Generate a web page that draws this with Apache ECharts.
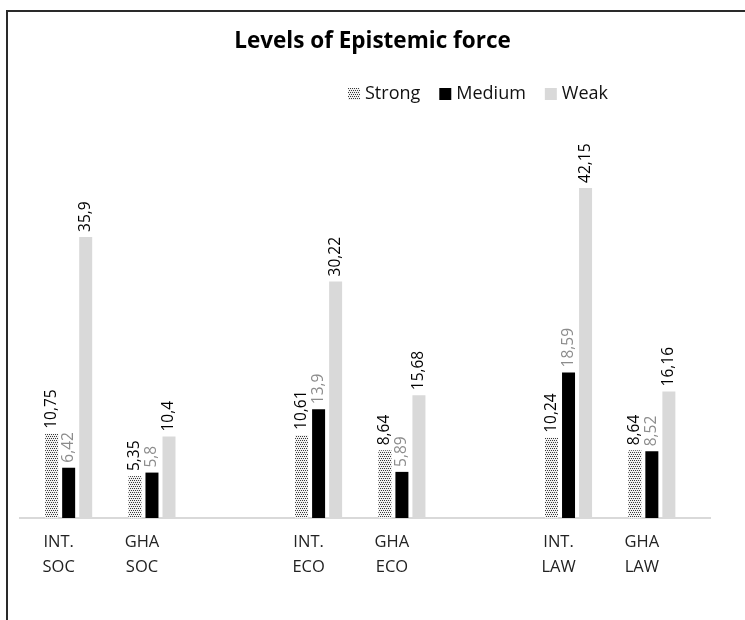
<!DOCTYPE html>
<html>
<head>
<meta charset="utf-8">
<script src="https://cdn.jsdelivr.net/npm/echarts@6/dist/echarts.min.js"></script>
<style>html,body{margin:0;padding:0;background:#fff;}#c{width:745px;height:620px;}</style>
</head>
<body>
<div id="c"></div>
<script>
// Data
var groups = ["INT.\nSOC", "GHA\nSOC", "INT.\nECO", "GHA\nECO", "INT.\nLAW", "GHA\nLAW"];
var strong = [10.75, 5.35, 10.61, 8.64, 10.24, 8.64];
var medium = [6.42, 5.8, 13.9, 5.89, 18.59, 8.52];
var weak = [35.9, 10.4, 30.22, 15.68, 42.15, 16.16];
var seriesNames = ["Strong", "Medium", "Weak"];

// Insert an empty category between each pair of groups
function pad(arr, blank) {
  var out = [];
  for (var i = 0; i < arr.length; i++) {
    out.push(arr[i]);
    if (i % 2 === 1 && i < arr.length - 1) out.push(blank);
  }
  return out;
}
var cats = pad(groups, "");

// Stipple pattern for "Strong"
var pc = document.createElement('canvas');
pc.width = 4; pc.height = 4;
var ctx = pc.getContext('2d');
ctx.fillStyle = '#f2f2f2'; ctx.fillRect(0, 0, 4, 4);
ctx.fillStyle = '#3a3a3a';
ctx.fillRect(0, 0, 1, 1); ctx.fillRect(2, 0, 1, 1);
ctx.fillRect(1, 2, 1, 1); ctx.fillRect(3, 2, 1, 1);
var strongFill = { image: pc, repeat: 'repeat' };

function fmt(p) { return String(p.value).replace('.', ','); }
function lbl(color) {
  return { show: true, position: 'top', rotate: 90, align: 'left', verticalAlign: 'middle',
           distance: 5, fontSize: 15.5, fontFamily: 'Open Sans', color: color, formatter: fmt };
}

var chart = echarts.init(document.getElementById('c'));
chart.setOption({
  backgroundColor: '#fff',
  animation: false,
  title: { text: 'Levels of Epistemic force', left: 'center', top: 25,
           textStyle: { fontFamily: 'Open Sans', fontSize: 22.5, fontWeight: 'bold', color: '#000' } },
  legend: { left: 343, top: 80, itemWidth: 12, itemHeight: 12, itemGap: 19, icon: 'rect',
            textStyle: { fontFamily: 'Open Sans', fontSize: 18, color: '#111' },
            data: seriesNames },
  grid: { left: 27, right: 51.5, top: 126.5, bottom: 102, containLabel: false },
  xAxis: { type: 'category', data: cats,
           axisLine: { show: false }, axisTick: { show: false },
           axisLabel: { interval: 0, margin: 12, fontFamily: 'Open Sans', fontSize: 16.5, lineHeight: 25,
                        color: '#222', padding: [0, 20, 0, 0] } },
  yAxis: { type: 'value', min: 0, max: 50, show: false, splitLine: { show: false } },
  graphic: [
    { type: 'line', shape: { x1: 19, y1: 518, x2: 711, y2: 518 }, style: { stroke: '#d9d9d9', lineWidth: 2 }, z: 0 },
    { type: 'rect', shape: { x: 7, y: 11, width: 800, height: 700 }, style: { fill: 'none', stroke: '#2a2a2a', lineWidth: 2 }, z: 0 }
  ],
  series: [
    { name: 'Strong', type: 'bar', data: pad(strong, null), barWidth: 13, barGap: '31%',
      itemStyle: { color: strongFill }, label: lbl('#000') },
    { name: 'Medium', type: 'bar', data: pad(medium, null), barWidth: 13, barGap: '31%',
      itemStyle: { color: '#000' }, label: lbl('#8c8c8c') },
    { name: 'Weak', type: 'bar', data: pad(weak, null), barWidth: 13, barGap: '31%',
      itemStyle: { color: '#d9d9d9' }, label: lbl('#000') }
  ]
});
</script>
</body>
</html>
